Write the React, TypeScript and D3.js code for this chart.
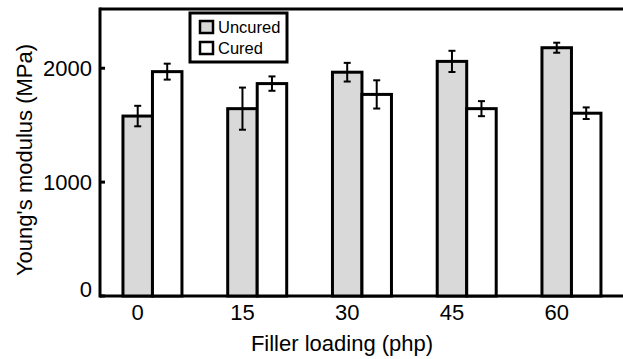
import React from 'react'
import * as d3 from 'd3'

const loadings = ['0', '15', '30', '45', '60']
const uncured = [1580, 1645, 1965, 2060, 2180]
const uncuredErr = [90, 185, 82, 93, 44]
const cured = [1970, 1865, 1770, 1645, 1605]
const curedErr = [70, 63, 124, 66, 51]
const yTicks = [0, 1000, 2000]
const seriesNames = ['Uncured', 'Cured']
const seriesFill = ['#d9d9d9', '#ffffff']

const W = 623, H = 359
const font = '"Liberation Sans", Arial, Helvetica, sans-serif'

export default function App() {
  const m = { left: 100, top: 9, bottom: 63 }
  const y = d3.scaleLinear().domain([0, 2520]).range([H - m.bottom, m.top])
  // one unit per loading step; ticks sit on the uncured bar
  const x = d3.scaleLinear().domain([-0.36, 4.9]).range([m.left, m.left + 5.26 * 104.75])
  const bw = 0.2816 * 104.75
  const y0 = y(0)

  const groups = loadings.map((l, i) => ({
    label: l,
    cx: x(i),
    bars: [
      { v: uncured[i], e: uncuredErr[i], x0: x(i) - bw / 2, fill: seriesFill[0] },
      { v: cured[i], e: curedErr[i], x0: x(i) + bw / 2, fill: seriesFill[1] },
    ],
  }))

  return (
    <svg width={W} height={H} style={{ position: 'absolute', left: 0, top: 0, background: '#fff' }} fontFamily={font}>
      {/* frame */}
      <line x1={m.left} x2={W + 5} y1={m.top} y2={m.top} stroke="#000" strokeWidth={3} />
      <line x1={m.left} x2={W + 5} y1={y0} y2={y0} stroke="#000" strokeWidth={3} />
      <line x1={m.left} x2={m.left} y1={m.top - 1.5} y2={y0 + 1.5} stroke="#000" strokeWidth={3} />

      {groups.map(g => (
        <g key={g.label}>
          {g.bars.map((b, j) => (
            <g key={j}>
              <rect x={b.x0} y={y(b.v)} width={bw} height={y0 - y(b.v)} fill={b.fill} stroke="#000" strokeWidth={3} />
              <line x1={b.x0 + bw / 2} x2={b.x0 + bw / 2} y1={y(b.v + b.e)} y2={y(b.v - b.e)} stroke="#000" strokeWidth={2} />
              <line x1={b.x0 + bw / 2 - 3.5} x2={b.x0 + bw / 2 + 3.5} y1={y(b.v + b.e)} y2={y(b.v + b.e)} stroke="#000" strokeWidth={2} />
              <line x1={b.x0 + bw / 2 - 3.5} x2={b.x0 + bw / 2 + 3.5} y1={y(b.v - b.e)} y2={y(b.v - b.e)} stroke="#000" strokeWidth={2} />
            </g>
          ))}
          <text x={g.cx} y={y0 + 24} textAnchor="middle" fontSize={22}>{g.label}</text>
        </g>
      ))}

      {yTicks.map(t => (
        <g key={t}>
          <line x1={m.left} x2={m.left + 5} y1={y(t)} y2={y(t)} stroke="#000" strokeWidth={3} />
          <text x={m.left - 8} y={y(t) - (t === 0 ? 7 : 0)} dy="0.35em" textAnchor="end" fontSize={22}>{t}</text>
        </g>
      ))}

      <text x={342} y={351} textAnchor="middle" fontSize={22}>Filler loading (php)</text>
      <text transform={`translate(32,160) rotate(-90)`} textAnchor="middle" fontSize={22}>Young's modulus (MPa)</text>

      {/* legend */}
      <g>
        <rect x={190} y={13} width={97} height={49} fill="#fff" stroke="#000" strokeWidth={3} />
        {seriesNames.map((s, i) => (
          <g key={s}>
            <rect x={200} y={21 + i * 21} width={13} height={12} fill={seriesFill[i]} stroke="#000" strokeWidth={2.5} />
            <text x={218} y={27 + i * 21} dy="0.35em" fontSize={16.5}>{s}</text>
          </g>
        ))}
      </g>
    </svg>
  )
}
